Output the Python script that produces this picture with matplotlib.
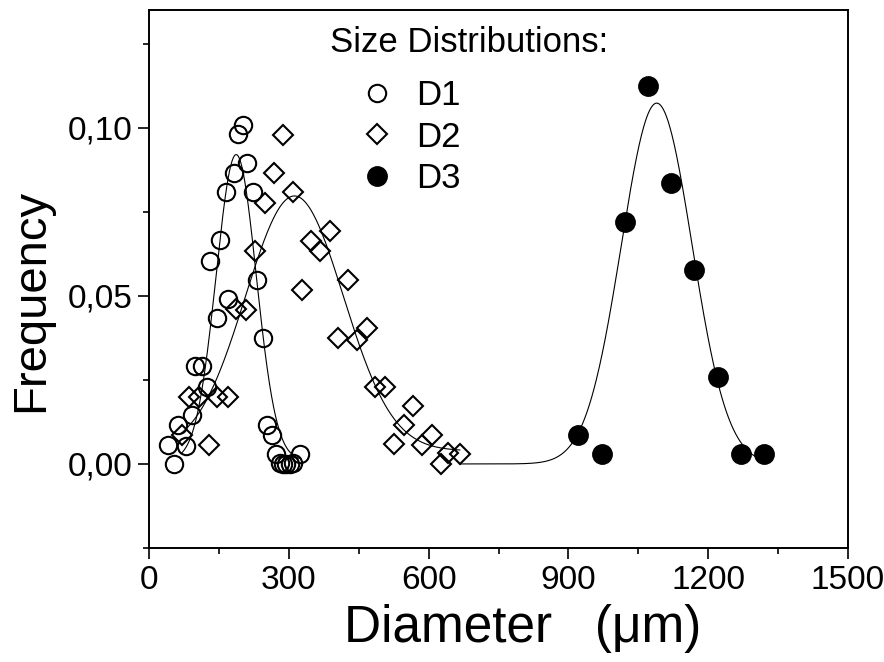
import numpy as np
import matplotlib
matplotlib.use('agg')
import matplotlib.pyplot as plt
from matplotlib.ticker import MultipleLocator, FuncFormatter

plt.rcParams['font.family'] = ['Liberation Sans', 'DejaVu Sans']

# measured size distributions (diameter in um, frequency)
d1_x = [41, 54, 63, 79, 92, 99, 113, 124, 131, 145, 152, 165, 170, 183, 190,
        202, 211, 223, 232, 245, 254, 263, 273, 280, 287, 294, 302, 309, 323]
d1_y = [0.0056, 0.0, 0.0116, 0.0053, 0.0145, 0.0290, 0.0290, 0.0229, 0.0605,
        0.0433, 0.0665, 0.0808, 0.0492, 0.0865, 0.0981, 0.1009, 0.0896, 0.0808,
        0.0546, 0.0375, 0.0116, 0.0086, 0.0031, 0.0003, 0.0, 0.0, 0.0, 0.0003,
        0.0031]

d2_x = [70, 86, 108, 129, 145, 170, 187, 208, 227, 249, 268, 288, 308, 328,
        347, 367, 388, 406, 428, 446, 467, 485, 506, 526, 547, 567, 585, 607,
        626, 642, 667]
d2_y = [0.0086, 0.0200, 0.0200, 0.0056, 0.0200, 0.0200, 0.0462, 0.0459, 0.0633,
        0.0775, 0.0864, 0.0979, 0.0808, 0.0518, 0.0663, 0.0633, 0.0692, 0.0376,
        0.0548, 0.0370, 0.0403, 0.0229, 0.0229, 0.0059, 0.0116, 0.0172, 0.0056,
        0.0086, 0.0, 0.0034, 0.0030]

d3_x = [921, 971, 1021, 1070, 1120, 1170, 1220, 1270, 1320]
d3_y = [0.0086, 0.0030, 0.0721, 0.1125, 0.0835, 0.0576, 0.0259, 0.0030, 0.0030]

# gaussian fit parameters
fit_center = [187, 312, 1089.5]
fit_sigma = [43, 105, 76]
fit_amp = [0.091, 0.0758, 0.1073]
fit_offset = [0.001, 0.0039, 0.0]
fit_start = [70, 70, 667]
fit_end = [322, 667, 1320]


def gauss(x, c, s, a, y0):
    return y0 + a * np.exp(-(x - c) ** 2 / (2 * s ** 2))


fig = plt.figure(figsize=(8.84, 6.62), dpi=100)
ax = fig.add_axes([0.1686, 0.1722, 0.7907, 0.8127])

for i in range(3):
    xs = np.linspace(fit_start[i], fit_end[i], 400)
    ax.plot(xs, gauss(xs, fit_center[i], fit_sigma[i], fit_amp[i], fit_offset[i]),
            color='black', lw=0.8, zorder=1)

mk = dict(linestyle='none', markeredgecolor='black', markeredgewidth=1.5)
ax.plot(d1_x, d1_y, marker='o', ms=12.5, markerfacecolor='none', label='D1', zorder=3, **mk)
ax.plot(d2_x, d2_y, marker='D', ms=9.7, markerfacecolor='none', label='D2', zorder=2, **mk)
ax.plot(d3_x, d3_y, marker='o', ms=13.5, markerfacecolor='black', label='D3', zorder=3, **mk)

ax.set_xlim(0, 1500)
ax.set_ylim(-0.025, 0.135)
ax.xaxis.set_major_locator(MultipleLocator(300))
ax.xaxis.set_minor_locator(MultipleLocator(150))
ax.yaxis.set_major_locator(MultipleLocator(0.05))
ax.yaxis.set_minor_locator(MultipleLocator(0.025))
ax.yaxis.set_major_formatter(FuncFormatter(lambda v, p: ('%.2f' % v).replace('.', ',')))

ax.tick_params(which='both', direction='out', width=1.2, labelsize=24)
ax.tick_params(which='major', length=8, pad=4)
ax.tick_params(which='minor', length=4)
for sp in ax.spines.values():
    sp.set_linewidth(1.4)

ax.set_xlabel('Diameter   (\u03bcm)', fontsize=37, x=0.534, labelpad=6)
ax.set_ylabel('Frequency', fontsize=34, y=0.46, labelpad=10)

ax.text(0.259, 0.9405, 'Size Distributions:', transform=ax.transAxes,
        fontsize=25, ha='left', va='center')
ax.legend(loc='upper left', bbox_to_anchor=(0.301, 0.872), frameon=False,
          fontsize=25, handlelength=1.0, handletextpad=0.62, labelspacing=0.25,
          borderpad=0, borderaxespad=0, numpoints=1)

fig.savefig('out.png', dpi=100)
